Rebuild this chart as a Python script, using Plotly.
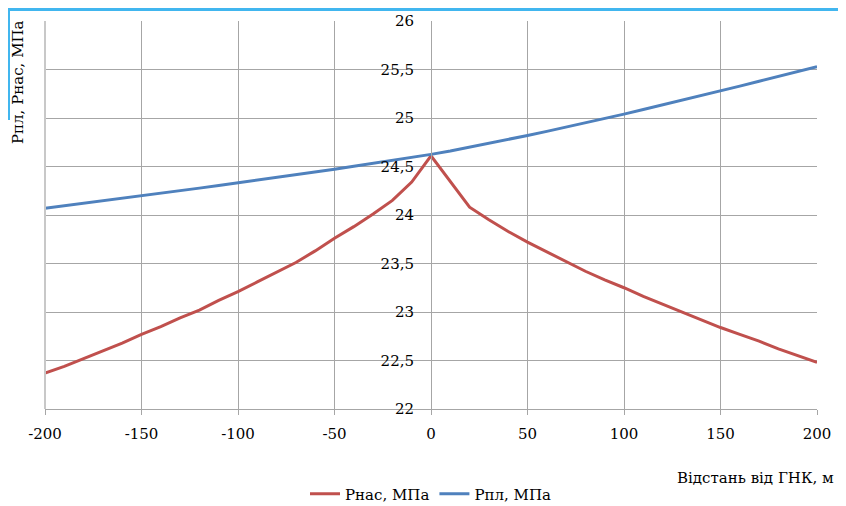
import plotly.graph_objects as go

distance = [-200, -190, -180, -170, -160, -150, -140, -130, -120, -110, -100,
            -90, -80, -70, -60, -50, -40, -30, -20, -10, 0,
            10, 20, 30, 40, 50, 60, 70, 80, 90, 100,
            110, 120, 130, 140, 150, 160, 170, 180, 190, 200]

p_nas = [22.37, 22.44, 22.52, 22.60, 22.68, 22.77, 22.85, 22.94, 23.02, 23.12, 23.21,
         23.31, 23.41, 23.51, 23.63, 23.76, 23.88, 24.01, 24.15, 24.34, 24.61,
         24.34, 24.08, 23.95, 23.83, 23.72, 23.62, 23.52, 23.42, 23.33, 23.25,
         23.16, 23.08, 23.00, 22.92, 22.84, 22.77, 22.70, 22.62, 22.55, 22.48]

p_pl = [24.070, 24.095, 24.120, 24.146, 24.172, 24.198, 24.224, 24.250, 24.277, 24.304, 24.331,
        24.358, 24.386, 24.414, 24.443, 24.472, 24.502, 24.532, 24.562, 24.593, 24.625,
        24.660, 24.698, 24.738, 24.779, 24.820, 24.862, 24.905, 24.949, 24.994, 25.040,
        25.087, 25.134, 25.182, 25.231, 25.280, 25.329, 25.379, 25.429, 25.479, 25.530]

x_ticks = [-200, -150, -100, -50, 0, 50, 100, 150, 200]
y_ticks = [22, 22.5, 23, 23.5, 24, 24.5, 25, 25.5, 26]

FONT = "DejaVu Serif"
FS = 15
GRID = "#a6a6a6"

fig = go.Figure()
fig.add_trace(go.Scatter(x=distance, y=p_nas, mode="lines", name="Рнас, МПа",
                         line=dict(color="#c0504d", width=3)))
fig.add_trace(go.Scatter(x=distance, y=p_pl, mode="lines", name="Рпл, МПа",
                         line=dict(color="#4f81bd", width=3)))

# page has an 8px body margin: figure origin sits at page (8, 8)
OFF = 8
W, H = 838, 498
L, R, T, B = 45 - OFF, 29, 21 - OFF, 97
pw, ph = W - L - R, H - T - B

def px(xp):  # page pixel -> paper x
    return (xp - OFF - L) / pw

def py(yp):  # page pixel -> paper y
    return (H - B - (yp - OFF)) / ph

fig.update_layout(
    template="none",
    width=W, height=H,
    margin=dict(l=L, r=R, t=T, b=B, autoexpand=False),
    paper_bgcolor="white", plot_bgcolor="white",
    separators=", ",
    font=dict(family=FONT, size=FS, color="black"),
    showlegend=True,
    legend=dict(orientation="h", x=0.5, xanchor="center", y=py(494), yanchor="middle",
                font=dict(family=FONT, size=FS), bgcolor="rgba(0,0,0,0)",
                itemwidth=30, tracegroupgap=0),
    xaxis=dict(range=[-200, 200], tickvals=x_ticks, ticktext=[str(v) for v in x_ticks],
               showgrid=True, gridcolor=GRID, gridwidth=1, zeroline=False,
               showline=True, linecolor=GRID, linewidth=1, mirror=False,
               ticks="outside", ticklen=5, tickcolor=GRID, automargin=False,
               tickfont=dict(family=FONT, size=FS), ticklabelstandoff=6),
    yaxis=dict(range=[22, 26], tickvals=y_ticks, showgrid=True, gridcolor=GRID, gridwidth=1,
               zeroline=False, showline=True, linecolor=GRID, linewidth=1,
               anchor="free", position=0.5, ticks="", automargin=False,
               tickfont=dict(family=FONT, size=FS), ticklabelstandoff=14),
    annotations=[
        dict(text="Відстань від ГНК, м", xref="paper", yref="paper",
             x=px(836), y=py(478), xanchor="right", yanchor="middle",
             showarrow=False, font=dict(family=FONT, size=FS)),
        dict(text="Рпл, Рнас, МПа", xref="paper", yref="paper", textangle=-90,
             x=px(18), y=py(18), xanchor="center", yanchor="top",
             showarrow=False, font=dict(family=FONT, size=FS)),
    ],
    shapes=[
        dict(type="line", xref="paper", yref="paper", x0=0, x1=0, y0=0, y1=1,
             line=dict(color="#c8c8c8", width=2)),
        dict(type="rect", xref="paper", yref="paper", x0=px(8), x1=px(846),
             y0=py(11), y1=py(8), line=dict(width=0), fillcolor="#41b6ef"),
        dict(type="rect", xref="paper", yref="paper", x0=px(8), x1=px(10),
             y0=py(120), y1=py(8), line=dict(width=0), fillcolor="#41b6ef"),
    ],
)

fig.write_html("out.html")
